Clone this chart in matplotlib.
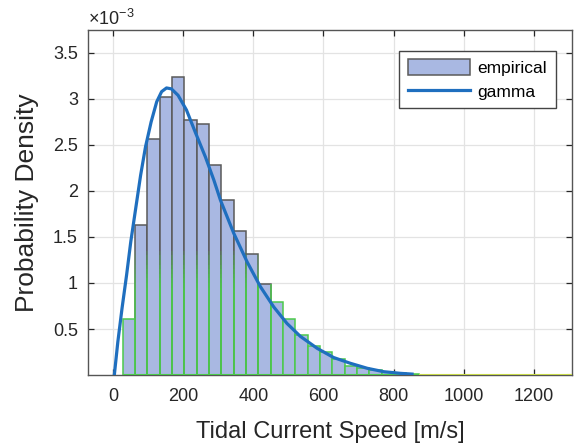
import matplotlib
matplotlib.use("Agg")
import matplotlib.pyplot as plt
import numpy as np
from matplotlib.collections import LineCollection
from matplotlib.colors import to_rgba

plt.rcParams['font.family'] = ['Liberation Sans', 'DejaVu Sans']
plt.rcParams['mathtext.fontset'] = 'custom'
plt.rcParams['mathtext.rm'] = 'Liberation Sans'

# histogram, densities in units of 1e-3
bin_start = 27
bin_width = 35.2
density = [0.61, 1.63, 2.56, 3.02, 3.24, 2.77, 2.73, 2.28, 1.90, 1.57,
           1.32, 0.99, 0.79, 0.605, 0.435, 0.31, 0.25, 0.17, 0.10, 0.08,
           0.055, 0.035, 0.02, 0.01,
           0, 0, 0, 0, 0, 0, 0, 0, 0, 0, 0, 0, 0, 0]

# fitted gamma curve (units of 1e-3)
gamma_x = [3, 13, 25, 38, 50, 64, 78, 92, 108, 124, 138, 152, 166, 185, 209,
           234, 263, 287, 306, 344, 382, 420, 458, 496, 534, 582, 629, 677,
           725, 772, 820, 853]
gamma_y = [0.0, 0.36, 0.725, 1.087, 1.45, 1.81, 2.17, 2.48, 2.75, 2.97, 3.08,
           3.12, 3.11, 3.04, 2.88, 2.64, 2.37, 2.12, 1.90, 1.54, 1.23, 0.96,
           0.74, 0.56, 0.42, 0.29, 0.19, 0.127, 0.073, 0.036, 0.018, 0.01]

xticks = [0, 200, 400, 600, 800, 1000, 1200]
yticks = [0.5, 1, 1.5, 2, 2.5, 3, 3.5]

dens = np.array(density)
left = bin_start + bin_width * np.arange(len(dens))

fig = plt.figure(figsize=(5.74, 4.45), dpi=100)
ax = fig.add_axes([0.1528, 0.1573, 0.844, 0.7753])

face = '#a9b8e2'
gray_edge = '#5a5a5a'
green_edge = '#4cc94c'
green_lo, green_hi = 0.95, 1.35  # outlines fade from green to gray here

tall = dens > green_lo
short = (dens > 0) & ~tall
zero = dens == 0

emp = ax.bar(left[tall], dens[tall], width=bin_width, align='edge', color=face,
             edgecolor=gray_edge, linewidth=1.1, zorder=2)
ax.bar(left[short], dens[short], width=bin_width, align='edge', color=face,
       edgecolor=green_edge, linewidth=1.1, zorder=2)

# green lower part of the tall bar outlines, fading out upwards
segs, cols = [], []
steps = np.linspace(green_lo, green_hi, 9)
for x0, h in zip(left[tall], dens[tall]):
    for xe in (x0, x0 + bin_width):
        segs.append([(xe, 0), (xe, green_lo)])
        cols.append(to_rgba(green_edge, 1.0))
        for k in range(len(steps) - 1):
            top = min(steps[k + 1], h)
            if steps[k] >= h:
                break
            segs.append([(xe, steps[k]), (xe, top)])
            cols.append(to_rgba(green_edge, 1.0 - (k + 1) / len(steps)))
ax.add_collection(LineCollection(segs, colors=cols, linewidths=1.1,
                                 capstyle='butt', zorder=3))

ax.bar(left[zero], dens[zero], width=bin_width, align='edge', facecolor='none',
       edgecolor='#c6d84a', linewidth=1.5, zorder=3)
ax.hlines(0, left[0], left[~zero][-1] + bin_width, color=green_edge,
          linewidth=1.5, zorder=3)

line, = ax.plot(gamma_x, gamma_y, color='#1f6fbf', linewidth=2.3, zorder=4,
                solid_joinstyle='round')

ax.set_xlim(-73, 1310)
ax.set_ylim(0, 3.75)
ax.set_xticks(xticks)
ax.set_yticks(yticks)
ax.set_yticklabels(['%g' % v for v in yticks])
ax.text(0.0, 1.004, r'$\times 10^{-3}$', transform=ax.transAxes,
        ha='left', va='bottom', fontsize=13, color='#262626')

ax.grid(True, color='#e3e3e3', linewidth=0.9, zorder=0)
ax.set_axisbelow(True)
ax.tick_params(direction='in', length=4, top=True, right=True,
               labelsize=13, colors='#262626', width=0.9)
ax.tick_params(axis='x', pad=9)
ax.tick_params(axis='y', pad=7)
for s in ax.spines.values():
    s.set_color('#555555')
    s.set_linewidth(1.0)

ax.set_xlabel('Tidal Current Speed [m/s]', fontsize=17, color='#262626',
              labelpad=12)
ax.set_ylabel('Probability Density', fontsize=19, color='#262626',
              labelpad=10)

leg = ax.legend([emp, line], ['empirical', 'gamma'], loc='upper right',
                bbox_to_anchor=(0.966, 0.94), borderaxespad=0, fontsize=12.5,
                fancybox=False, edgecolor='#444444', framealpha=1,
                handlelength=3.6, handleheight=1.0, handletextpad=0.4,
                labelspacing=0.4, borderpad=0.5)
leg.get_frame().set_linewidth(1.0)

fig.savefig('out.png', dpi=100)
